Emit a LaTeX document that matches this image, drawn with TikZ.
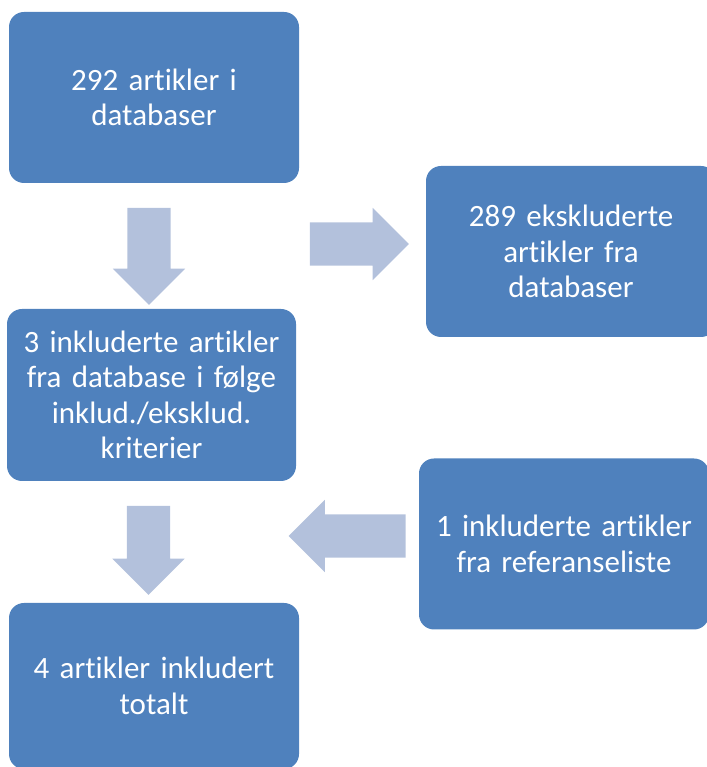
\documentclass[tikz,border=0pt]{standalone}
\usepackage{fontspec}
\setmainfont[Ligatures=NoCommon,WordSpace=0.75]{Carlito}
\usepackage{xcolor}
\usetikzlibrary{shapes.arrows,positioning,calc}
\definecolor{boxblue}{HTML}{4F81BD}
\definecolor{arrowblue}{HTML}{B3C1DC}
\tikzset{
  box/.style={rectangle, rounded corners=15pt, fill=boxblue, text=white,
    minimum width=290pt, minimum height=171pt, text width=284pt, align=center,
    inner sep=0pt, font=\fontsize{31}{35.5}\selectfont},
  blockarrow/.style={single arrow, fill=arrowblue, inner xsep=0pt, inner ysep=21.5pt,
    single arrow head extend=14.5pt, single arrow tip angle=90}
}
\begin{document}
\begin{tikzpicture}[x=1pt,y=1pt]
 \useasboundingbox (0,0) rectangle (706,767);
% nodes
 \node[box] (db) at (154,669.5) {292 artikler i\\databaser};
 \node[box] (eks) at (571,515.5) {289 ekskluderte\\artikler fra\\databaser};
 \node[box, minimum width=289pt, minimum height=172pt] (ink) at (151.5,372) {3 inkluderte artikler\\fra database i følge\\inklud./eksklud.\\kriterier};
 \node[box] (ref) at (564,223) {1 inkluderte artikler\\fra referanseliste};
 \node[box, minimum height=166pt] (tot) at (154,81) {4 artikler inkludert\\totalt};

% edges
 \node[blockarrow, minimum height=97pt, rotate=-90] (dbink) at (149,521.5) {};
 \node[blockarrow, minimum height=99pt] (dbeks) at (348.5,523) {};
 \node[blockarrow, minimum height=89pt, rotate=-90] (inktot) at (148.5,227.5) {};
 \node[blockarrow, minimum height=117pt, rotate=180] (refink) at (358,231) {};
\end{tikzpicture}
\end{document}
